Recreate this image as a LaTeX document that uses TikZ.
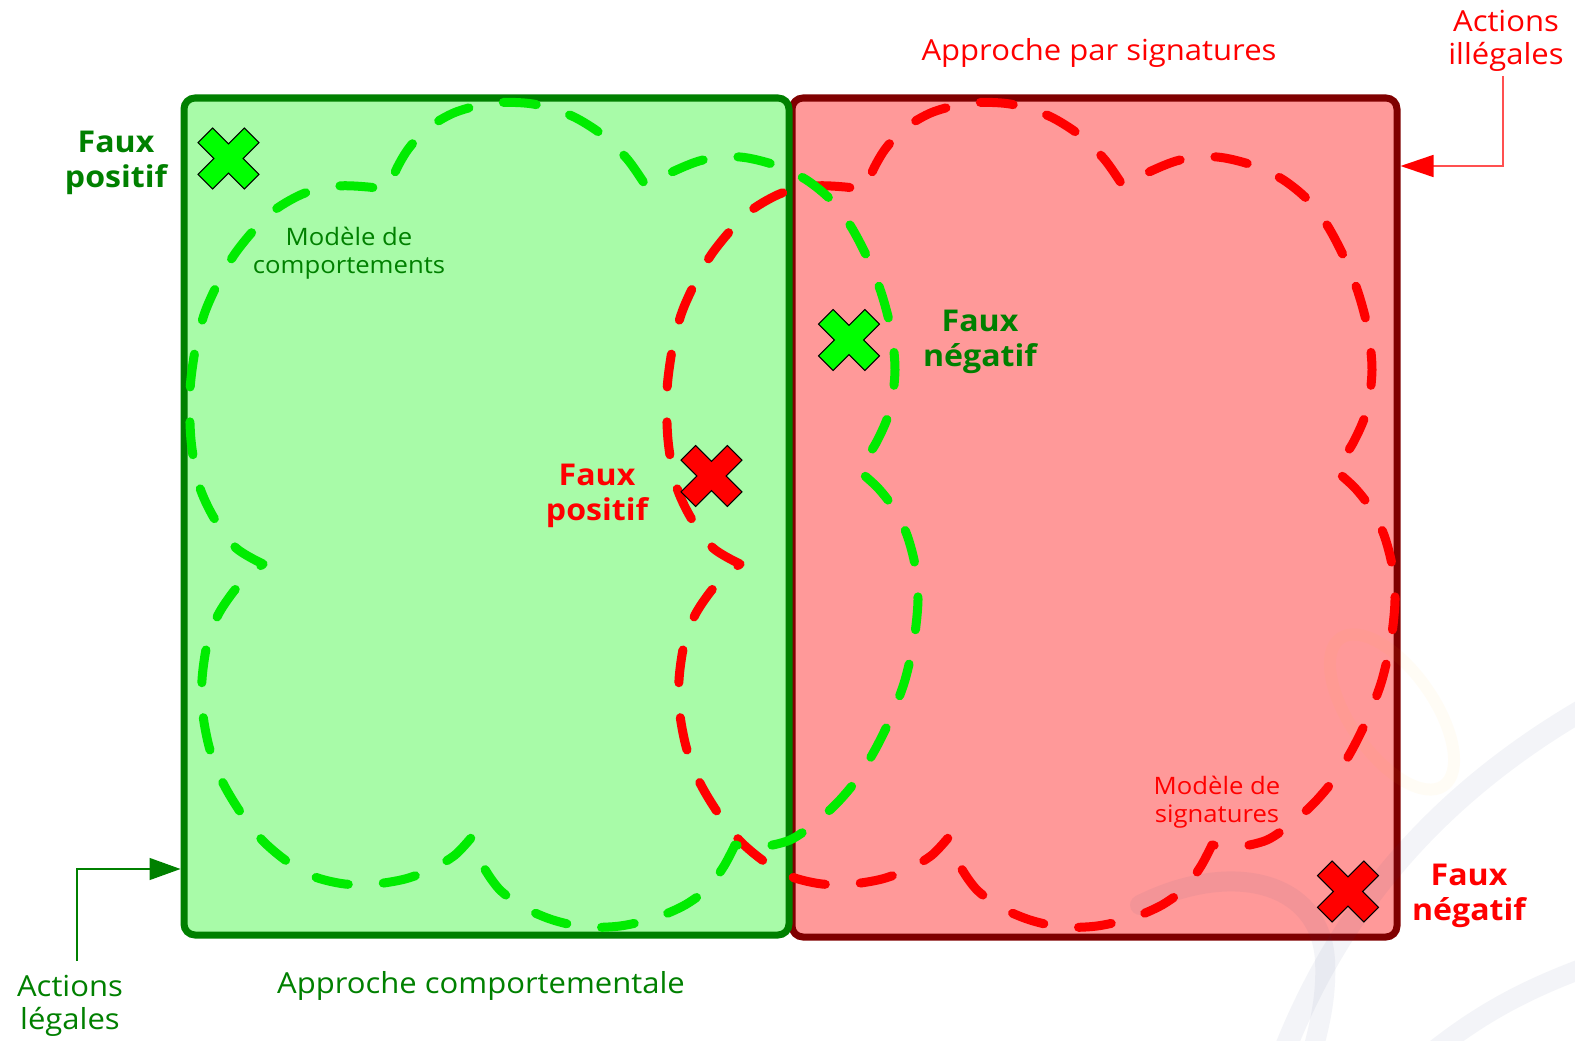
\documentclass[tikz,border=0pt]{standalone}
\usepackage{fontspec}
\setmainfont{Open Sans}[FakeStretch=1.07]
\usetikzlibrary{arrows.meta}

\definecolor{boxgreen}{RGB}{168,251,168}
\definecolor{edgegreen}{RGB}{0,128,0}
\definecolor{boxred}{RGB}{255,153,153}
\definecolor{edgered}{RGB}{128,0,0}
\definecolor{dashgreen}{RGB}{0,236,0}
\definecolor{dashred}{RGB}{255,0,0}
\definecolor{txtgreen}{RGB}{0,128,0}
\definecolor{txtred}{RGB}{255,0,0}
\definecolor{markgreen}{RGB}{0,255,0}
\definecolor{markred}{RGB}{255,0,0}
\definecolor{linkred}{RGB}{255,80,80}
\definecolor{wmgrey}{RGB}{50,70,130}
\definecolor{wmyellow}{RGB}{255,200,0}

\tikzset{
  approachbox/.style={draw, line width=7, rounded corners=11, inner sep=0pt,
    minimum width=605, minimum height=#1},
  cloudline/.style={line width=9, line cap=round, line join=round,
    dash pattern=on 33pt off 35pt},
  biglabel/.style={font=\fontsize{30}{35}\selectfont\bfseries, align=center,
    inner sep=0pt, anchor=base},
  toplabel/.style={font=\fontsize{29}{33}\selectfont, align=center,
    inner sep=0pt, anchor=base},
  modellabel/.style={font=\fontsize{24}{28.4}\selectfont, align=center,
    inner sep=0pt, anchor=base},
  logoband/.style={line cap=round, draw opacity=0.055, line width=#1},
  % dashed cloud outline of a model, six lobes between inward cusps
  pics/cloudmodel/.style={code={
    \draw[cloudline, draw=#1]
      plot[smooth] coordinates {(263,564) (236,548) (214,518) (199,485) (191,440)
        (190,390) (196,345) (205,312) (218,283) (234,255) (254,230) (276,209)
        (305,193) (338,186) (368,187) (388,190)}
      -- plot[smooth] coordinates {(388,190) (397,168) (409,148) (428,128)
        (456,112) (493,103) (533,104) (572,116) (604,136) (628,160) (646,186)}
      -- plot[smooth] coordinates {(646,186) (672,172) (703,160) (740,157)
        (775,165) (805,179) (830,199) (850,225) (867,257) (881,292) (891,330)
        (895,370) (890,410) (876,443) (858,470)}
      -- plot[smooth] coordinates {(858,470) (878,488) (895,510) (907,535)
        (915,565) (918,600) (914,640) (905,680) (892,715) (876,748) (858,778)
        (838,802) (815,823) (790,840) (760,847) (735,845)}
      -- plot[smooth] coordinates {(735,845) (724,866) (708,888) (685,905)
        (655,918) (620,926) (585,927) (553,920) (525,908) (500,890) (483,866)
        (471,838)}
      -- plot[smooth] coordinates {(471,838) (455,855) (432,869) (405,879)
        (375,884) (345,884) (315,877) (288,862) (263,841) (241,813) (223,783)
        (210,750) (203,715) (202,680) (207,645) (218,615) (234,591) (250,574)
        (263,564)};
  }},
  % cross marking a misclassified action
  pics/xmark/.style={code={
    \filldraw[fill=#1, draw=black, line width=1, rotate=45]
      (10.3,10.3) -- (32.8,10.3) -- (32.8,-10.3) -- (10.3,-10.3)
      -- (10.3,-32.8) -- (-10.3,-32.8) -- (-10.3,-10.3) -- (-32.8,-10.3)
      -- (-32.8,10.3) -- (-10.3,10.3) -- (-10.3,32.8) -- (10.3,32.8) -- cycle;
  }},
}

\begin{document}
\begin{tikzpicture}[x=1pt, y=-1pt]
\useasboundingbox (0,0) rectangle (1575,1041);
\fill[white] (0,0) rectangle (1575,1041);

% the two approaches
\node[approachbox=839, draw=edgered, fill=boxred] (redbox) at (1094.5,517.5) {};
\node[approachbox=837, draw=edgegreen, fill=boxgreen] (greenbox) at (486.5,516.5) {};

% faint logo in the lower right corner
\draw[wmgrey, logoband=22] (1280,1062) .. controls (1330,930) and (1420,800) .. (1600,700);
\draw[wmgrey, logoband=20] (1140,905) .. controls (1230,860) and (1320,880) .. (1325,960)
  .. controls (1327,1000) and (1318,1030) .. (1310,1062);
\draw[wmgrey, logoband=20] (1420,1062) .. controls (1480,1012) and (1530,987) .. (1600,962);
\draw[wmyellow, line width=12, draw opacity=0.04, rotate around={-55:(1392,712)}]
  (1392,712) ellipse (90 and 42);

% model outlines
\pic at (477,0) {cloudmodel=dashred};
\pic at (0,0) {cloudmodel=dashgreen};

% misclassified actions
\pic at (228.5,158.5) {xmark=markgreen};
\pic at (849,340) {xmark=markgreen};
\pic at (711.5,476) {xmark=markred};
\pic at (1348,891.5) {xmark=markred};

% labels (anchored at the baseline of their last line)
\node[biglabel, text=txtgreen] (fpgreen) at (116,187) {Faux\\positif};
\node[biglabel, text=txtgreen] (fngreen) at (980,366.7) {Faux\\négatif};
\node[biglabel, text=txtred] (fpred) at (597,520) {Faux\\positif};
\node[biglabel, text=txtred] (fnred) at (1469,920) {Faux\\négatif};
\node[modellabel, text=txtgreen] (mcomp) at (349,273.4) {Modèle de\\comportements};
\node[modellabel, text=txtred] (msig) at (1217,822.7) {Modèle de\\signatures};
\node[toplabel, text=txtred] (apsig) at (1099,61) {Approche par signatures};
\node[toplabel, text=txtgreen] (apcomp) at (481,993.3) {Approche comportementale};
\node[toplabel, text=txtred] (ilg) at (1506,64.7) {Actions\\illégales};
\node[toplabel, text=txtgreen] (lg) at (70,1029.7) {Actions\\légales};

% pointers to the two sets of actions
\draw[linkred, line width=1.6,
  -{Triangle[length=33pt, width=22pt, color=markred]}]
  ([xshift=-3pt, yshift=-4pt]ilg.south) |- ([yshift=-71.5pt]redbox.north east);
\draw[edgegreen, line width=1.4,
  -{Triangle[length=31pt, width=22pt, color=edgegreen]}]
  ([xshift=7pt, yshift=14pt]lg.north) |- ([yshift=69.5pt]greenbox.south west);
\end{tikzpicture}
\end{document}
